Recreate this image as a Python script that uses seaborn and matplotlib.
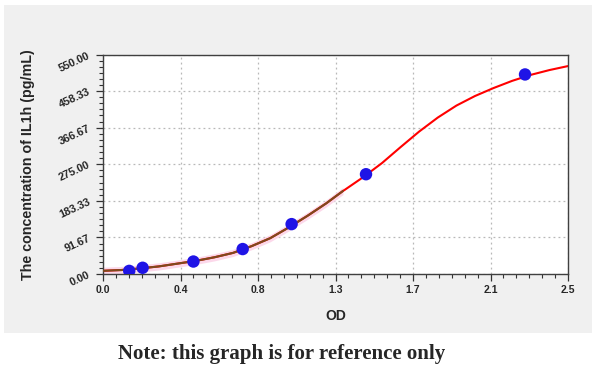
import numpy as np
import matplotlib
matplotlib.use('Agg')
import matplotlib.pyplot as plt
import pandas as pd
import seaborn as sns
from matplotlib.ticker import AutoMinorLocator
from matplotlib.patches import Rectangle

# standards
od_points = [0.141, 0.213, 0.486, 0.751, 1.014, 1.414, 2.269]
conc_points = [7.8, 15.6, 31.25, 62.5, 125, 250, 500]

# fitted curve
curve_od = [0.0, 0.1, 0.2, 0.3, 0.4, 0.5, 0.6, 0.7, 0.8, 0.9, 1.0, 1.1, 1.2, 1.29,
            1.3, 1.4, 1.5, 1.6, 1.7, 1.8, 1.9, 2.0, 2.1, 2.2, 2.3, 2.4, 2.5]
curve_conc = [8, 10, 14, 19, 26, 33, 42, 53, 70, 90, 117, 146, 177, 208,
              211, 243, 278, 318, 357, 392, 422, 446, 466, 484, 499, 511, 521]
brown_end = 1.29

x_ticks = [0.0, 2.5 / 6, 5 / 6, 1.25, 10 / 6, 12.5 / 6, 2.5]
x_tick_labels = ['0.0', '0.4', '0.8', '1.3', '1.7', '2.1', '2.5']
y_ticks = [0, 550 / 6, 1100 / 6, 275, 2200 / 6, 2750 / 6, 550]
y_tick_labels = ['0.00', '91.67', '183.33', '275.00', '366.67', '458.33', '550.00']

sns.set_style('white')
plt.rcParams['font.family'] = ['Liberation Sans', 'DejaVu Sans']

curve = pd.DataFrame({'OD': curve_od, 'conc': curve_conc})
low = curve[curve['OD'] <= brown_end]
pts = pd.DataFrame({'OD': od_points, 'conc': conc_points})

fig = plt.figure(figsize=(6.0, 3.73), dpi=100)
fig.patches.append(Rectangle((4 / 600, 1 - 333 / 373), 588 / 600, 328 / 373,
                             transform=fig.transFigure, facecolor='#f0f0f0',
                             edgecolor='none', zorder=-5))
ax = fig.add_axes([103 / 600, 1 - 274 / 373, 465 / 600, 219.5 / 373])
ax.set_facecolor('white')

ax.fill_between(low['OD'], low['conc'] - 9, low['conc'] + 9, color='#fcd8ea', lw=0, zorder=1)
sns.lineplot(data=curve, x='OD', y='conc', color='#ff0000', lw=1.5, ax=ax, zorder=2)
sns.lineplot(data=low, x='OD', y='conc', color='#7d4a1e', lw=1.5, ax=ax, zorder=3)
sns.scatterplot(data=pts, x='OD', y='conc', color='#1f14e6', s=80, edgecolor='none',
                ax=ax, zorder=4)

ax.set_xlim(0, 2.5)
ax.set_ylim(0, 550)
ax.set_xticks(x_ticks)
ax.set_xticklabels(x_tick_labels, fontweight='bold', fontsize=7.5)
ax.set_yticks(y_ticks)
ax.set_yticklabels(y_tick_labels, fontweight='bold', fontsize=7.8, rotation=25)
ax.xaxis.set_minor_locator(AutoMinorLocator(6))
ax.yaxis.set_minor_locator(AutoMinorLocator(6))
ax.tick_params(which='major', direction='out', length=5, width=0.9, color='#333333',
               bottom=True, left=True, pad=3)
ax.tick_params(which='minor', direction='out', length=3, width=0.8, color='#333333',
               bottom=True, left=True)
ax.grid(True, which='major', color='#b8b8b8', linestyle=(0, (1.5, 2.5)), lw=0.9)
for s in ax.spines.values():
    s.set_color('#404040')
    s.set_linewidth(1.0)

ax.set_xlabel('OD', fontweight='bold', fontsize=10, labelpad=10)
ax.set_ylabel('The concentration of IL1h (pg/mL)', fontweight='bold', fontsize=10.3, labelpad=16)

fig.text(118 / 600, 1 - 354 / 373, 'Note: this graph is for reference only',
         fontsize=15, fontweight='bold', family=['Liberation Serif', 'DejaVu Serif'],
         va='center', ha='left')

fig.savefig('out.png', dpi=100, facecolor='white')
